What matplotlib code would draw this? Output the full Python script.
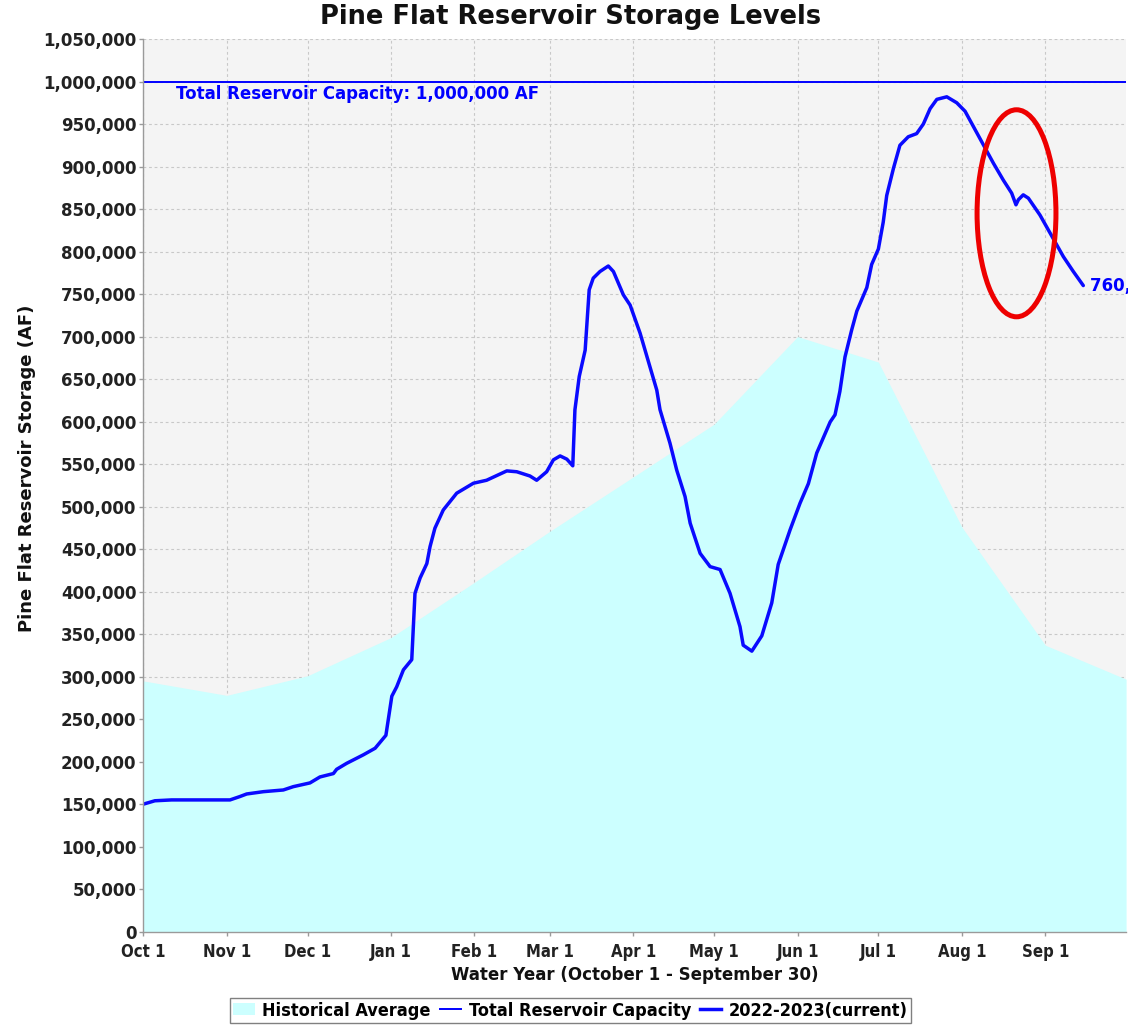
import matplotlib
matplotlib.use("Agg")
import matplotlib.pyplot as plt
from matplotlib.patches import Ellipse, Patch
from matplotlib.lines import Line2D
from matplotlib.ticker import FuncFormatter, MultipleLocator

# Day-of-water-year offsets (Oct 1 = day 0) and labels for month starts
month_days = [0, 31, 61, 92, 123, 151, 182, 212, 243, 273, 304, 335]
month_labels = ["Oct 1", "Nov 1", "Dec 1", "Jan 1", "Feb 1", "Mar 1",
                "Apr 1", "May 1", "Jun 1", "Jul 1", "Aug 1", "Sep 1"]

# Historical average storage (AF) at month starts, ending Sep 30
hist_days = [0, 31, 61, 92, 123, 151, 182, 212, 243, 273, 304, 335, 365]
hist_storage = [295000, 278000, 301000, 346000, 411000, 471000, 535000,
                597000, 700000, 670000, 476000, 337000, 297000]

# 2022-2023 water year storage (AF)
cur_days = [0, 4.3, 10.5, 32.2, 35.9, 38.4, 44.6, 52, 55.7, 61.9, 65.6, 70.6,
            71.8, 75.5, 81.7, 86.1, 90.1, 92.3, 94.1, 96.6, 99.7, 100.9, 102.8,
            105.3, 106.5, 108.3, 111.4, 116.4, 122.6, 127.5, 135, 138.7, 143.6,
            146.1, 149.8, 152.3, 154.8, 157.3, 159.5, 160.3, 161.9, 164.1, 165.6,
            167.1, 169.6, 172.7, 174.6, 178.3, 180.8, 184.5, 190.7, 191.9, 195.6,
            198.1, 201.2, 203.1, 206.8, 210.5, 214.2, 217.9, 221.6, 222.8, 226,
            229.7, 233.4, 235.8, 240.2, 243.9, 247, 250.1, 255.1, 256.9, 258.7,
            260.6, 263.1, 265, 268.7, 270.5, 273, 274.8, 276.1, 278.6, 281,
            284.1, 287.2, 289.7, 292.2, 294.7, 298.4, 302.1, 305.2, 308.3, 312,
            315.7, 319.4, 322.5, 324.1, 325, 326.8, 328.7, 333, 336.8, 341.7,
            345.4, 349.1]
cur_storage = [150000, 154000, 155000, 155000, 159000, 162000, 164700, 166700,
               170600, 175000, 182000, 186000, 191000, 198000, 208000, 215800,
               231000, 277000, 288000, 308000, 320000, 398000, 416000, 433000,
               453000, 474600, 496000, 515800, 527500, 531000, 542000, 541000,
               536000, 531000, 541000, 555000, 559600, 555800, 548000, 613800,
               653000, 684000, 755000, 768700, 776500, 783000, 776500, 749000,
               737000, 704000, 637000, 614000, 574600, 543000, 511800, 480500,
               445000, 429400, 426000, 398000, 358800, 337000, 330000, 348000,
               386700, 432000, 472600, 504000, 527000, 563000, 599600, 608000,
               635500, 676000, 708000, 730000, 757600, 784800, 803000, 834600,
               866000, 897900, 925000, 935000, 938700, 950000, 968000, 979000,
               982000, 975000, 965000, 947000, 925500, 904000, 884000, 868700,
               855000, 861000, 866700, 862800, 843000, 821600, 794000, 776500,
               760000]

capacity = 1000000

fig = plt.figure(figsize=(11.28, 10.25), dpi=100, facecolor="white")
ax = fig.add_axes([143.3 / 1128, 93.3 / 1025, (1126.1 - 143.3) / 1128, (931.7 - 39) / 1025])
ax.set_facecolor("#f4f4f4")

ax.fill_between(hist_days, hist_storage, 0, color="#ccffff", linewidth=0, zorder=1)
ax.axhline(capacity, color="#0000ff", linewidth=1.4, zorder=3)
ax.plot(cur_days, cur_storage, color="#0a0aff", linewidth=2.5, zorder=4,
        solid_joinstyle="round", solid_capstyle="round")

ax.text(12.1, 985500, "Total Reservoir Capacity: 1,000,000 AF", color="#0000ff",
        fontsize=12, fontweight="bold", va="center", ha="left", zorder=5)
ax.text(cur_days[-1] + 2.4, cur_storage[-1], f"{cur_storage[-1]:,} AF",
        color="#0000ff", fontsize=12, fontweight="bold", va="center", ha="left",
        zorder=5, clip_on=False)

# red highlight around the late-August bump
ax.add_patch(Ellipse((324.3, 845000), 29.3, 243500, fill=False,
                     edgecolor="#ee0000", linewidth=3.6, zorder=6))

ax.set_xlim(0, 365)
ax.set_ylim(0, 1050000)
ax.set_xticks(month_days)
ax.set_xticklabels(month_labels)
ax.yaxis.set_major_locator(MultipleLocator(50000))
ax.yaxis.set_major_formatter(FuncFormatter(lambda v, p: f"{int(v):,}"))

ax.grid(True, color="#c8c8c8", linestyle=(0, (2.5, 2.5)), linewidth=0.8)
ax.set_axisbelow(True)

for side in ("top", "right"):
    ax.spines[side].set_visible(False)
for side in ("left", "bottom"):
    ax.spines[side].set_color("#9a9a9a")
    ax.spines[side].set_linewidth(1.0)
    ax.spines[side].set_zorder(7)

ax.tick_params(axis="both", colors="#9a9a9a", length=3, width=1)
ax.tick_params(axis="y", pad=2)
ax.tick_params(axis="x", pad=5)
for lab in ax.get_yticklabels():
    lab.set_fontsize(12)
    lab.set_fontweight("bold")
    lab.set_color("#222222")
for lab in ax.get_xticklabels():
    lab.set_fontsize(12)
    lab.set_fontweight("bold")
    lab.set_color("#222222")
    lab.set_fontstretch("condensed")

ax.set_ylabel("Pine Flat Reservoir Storage (AF)", fontsize=13, fontweight="bold",
              color="#111111")
ax.yaxis.set_label_coords(-0.109, 0.519)
ax.set_xlabel("Water Year (October 1 - September 30)", fontsize=12,
              fontweight="bold", color="#111111", labelpad=4)
fig.text(0.5055, 0.983, "Pine Flat Reservoir Storage Levels", ha="center", va="center",
         fontsize=18.5, fontweight="bold", color="#111111")

handles = [Patch(facecolor="#ccffff", edgecolor="none"),
           Line2D([], [], color="#0000ff", linewidth=1.4),
           Line2D([], [], color="#0a0aff", linewidth=2.5)]
labels = ["Historical Average", "Total Reservoir Capacity", "2022-2023(current)"]
leg = fig.legend(handles, labels, loc="center", bbox_to_anchor=(0.5058, 0.0141),
                 ncol=3, frameon=True, fancybox=False, edgecolor="#808080",
                 framealpha=1, prop={"size": 13, "weight": "bold", "stretch": "condensed"},
                 handlelength=1.2, handleheight=0.6, handletextpad=0.4,
                 columnspacing=0.5, borderpad=0.2)
leg.get_frame().set_linewidth(1.0)

fig.savefig("out.png", dpi=100, facecolor="white")
